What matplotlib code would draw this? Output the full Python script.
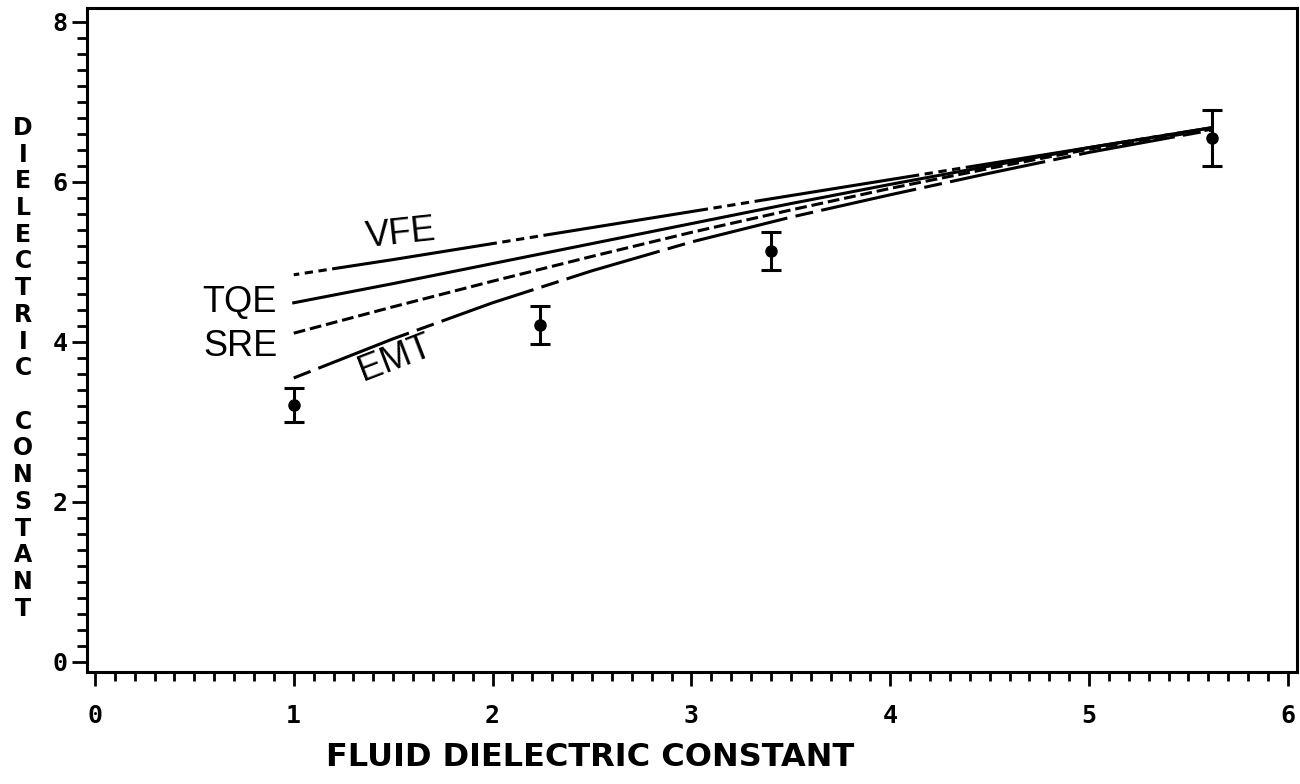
import matplotlib
matplotlib.use("Agg")
import matplotlib.pyplot as plt
from matplotlib.ticker import MultipleLocator

# model curves
x_model = [1.0, 1.5, 2.0, 2.5, 3.0, 3.5, 4.0, 4.5, 5.0, 5.62]
vfe = [4.84, 5.03, 5.23, 5.43, 5.63, 5.83, 6.03, 6.23, 6.43, 6.68]
tqe = [4.49, 4.73, 4.98, 5.23, 5.48, 5.73, 5.97, 6.20, 6.43, 6.68]
sre = [4.11, 4.44, 4.76, 5.07, 5.37, 5.65, 5.92, 6.17, 6.41, 6.66]
emt = [3.55, 4.04, 4.49, 4.89, 5.25, 5.56, 5.84, 6.11, 6.37, 6.65]

# measured points
x_meas = [1.0, 2.24, 3.40, 5.62]
y_meas = [3.21, 4.21, 5.14, 6.55]
y_err = [0.21, 0.24, 0.24, 0.35]

xticks = [0, 1, 2, 3, 4, 5, 6]
yticks = [0, 2, 4, 6, 8]

plt.rcParams['lines.scale_dashes'] = False

fig = plt.figure(figsize=(13, 7.84), dpi=100)
ax = fig.add_axes([0.0669, 0.1429, 0.9308, 0.8469])

lw = 2.2
ax.plot(x_model, vfe, color='black', lw=lw, linestyle=(126, (120, 4, 6, 4, 6, 4, 6, 4)))
ax.plot(x_model, tqe, color='black', lw=lw, linestyle='-')
ax.plot(x_model, sre, color='black', lw=lw, linestyle=(0, (8.5, 3.5)))
ax.plot(x_model, emt, color='black', lw=lw, linestyle=(76, (70, 6, 13, 6)))

ax.errorbar(x_meas, y_meas, yerr=y_err, fmt='o', color='black', ms=8,
            elinewidth=2.2, capsize=7, capthick=2.2)

# curve labels
lab = dict(fontsize=26, family='Liberation Sans', color='black')
ax.text(1.54, 5.35, 'VFE', ha='center', va='center', rotation=6, **lab)
ax.text(0.915, 4.49, 'TQE', ha='right', va='center', **lab)
ax.text(0.92, 3.94, 'SRE', ha='right', va='center', **lab)
ax.text(1.51, 3.79, 'EMT', ha='center', va='center', rotation=21, **lab)

ax.set_xlim(-0.04, 6.046)
ax.set_ylim(-0.125, 8.175)
ax.set_xticks(xticks)
ax.set_yticks(yticks)
ax.xaxis.set_minor_locator(MultipleLocator(0.1))
ax.yaxis.set_minor_locator(MultipleLocator(0.2))

tick_font = dict(family='DejaVu Sans Mono', weight='bold', size=18)
ax.set_xticklabels([str(v) for v in xticks], fontdict=tick_font)
ax.set_yticklabels([str(v) for v in yticks], fontdict=tick_font)
ax.tick_params(axis='x', which='major', direction='out', length=10, width=2, pad=13)
ax.tick_params(axis='x', which='minor', direction='out', length=6.5, width=2)
ax.tick_params(axis='y', which='major', direction='out', length=11, width=2, pad=3)
ax.tick_params(axis='y', which='minor', direction='out', length=7, width=2)
for s in ax.spines.values():
    s.set_linewidth(2.2)

# x axis title
fig.text(590 / 1300, 1 - 757 / 784, 'FLUID DIELECTRIC CONSTANT', ha='center', va='center',
         family='DejaVu Sans', weight='bold', fontsize=23)

# y axis title, letters stacked one per line
ylab = 'DIELECTRIC CONSTANT'
for i, ch in enumerate(ylab):
    ypix = 128 + i * 26.7
    fig.text(23 / 1300, 1 - ypix / 784, ch, ha='center', va='center',
             family='DejaVu Sans', weight='bold', fontsize=17)

fig.savefig('out.png', dpi=100)
